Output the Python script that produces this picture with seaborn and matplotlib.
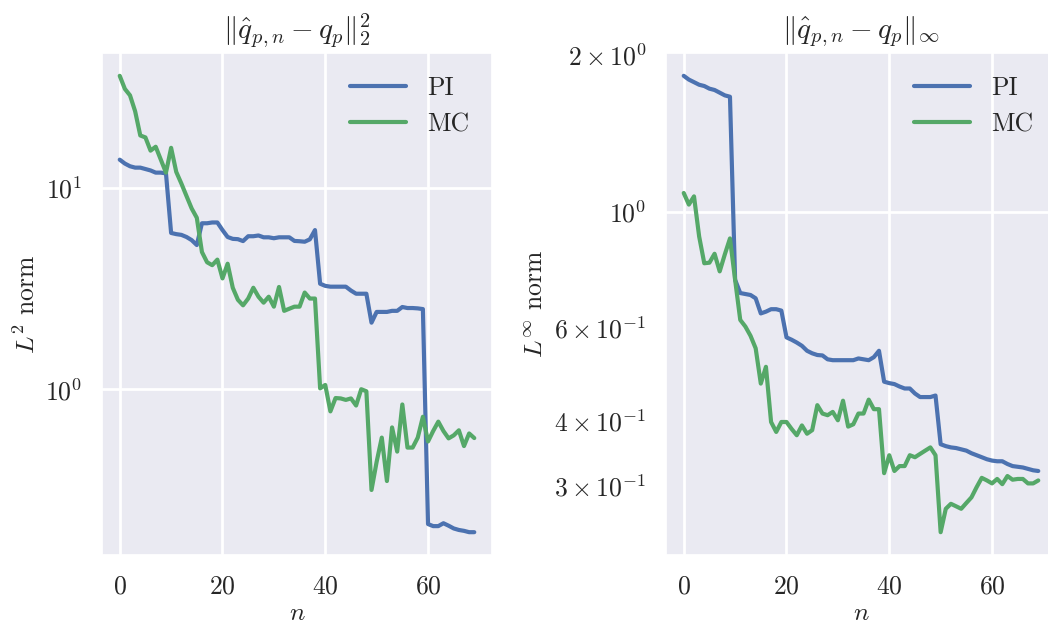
import numpy as np
import pandas as pd
import matplotlib
matplotlib.use("Agg")
import matplotlib.pyplot as plt
import seaborn as sns

# iteratsioonid
n_iter = list(range(70))

# L2 normi vead
pi_l2 = [13.8, 13.2, 12.8, 12.6, 12.6, 12.4, 12.2, 11.9, 11.9, 11.8,
         5.97, 5.89, 5.84, 5.7, 5.5, 5.2, 6.67, 6.67, 6.73, 6.73,
         6.17, 5.7, 5.58, 5.56, 5.44, 5.75, 5.75, 5.8, 5.68, 5.68,
         5.62, 5.68, 5.68, 5.68, 5.45, 5.43, 5.4, 5.55, 6.17, 3.34,
         3.26, 3.23, 3.23, 3.23, 3.23, 3.09, 2.98, 2.98, 2.98, 2.14,
         2.42, 2.42, 2.42, 2.45, 2.45, 2.56, 2.53, 2.53, 2.52, 2.5,
         0.214, 0.209, 0.209, 0.216, 0.21, 0.2035, 0.2, 0.198, 0.195, 0.195]
mc_l2 = [36, 31, 28.8, 24, 18.2, 17.8, 15.3, 16, 13.8, 11.9,
         15.8, 12, 10.5, 9.1, 7.9, 7.1, 4.8, 4.27, 4.13, 4.4,
         3.55, 4.2, 3.19, 2.78, 2.61, 2.82, 3.19, 2.88, 2.69, 2.88,
         2.57, 3.22, 2.45, 2.51, 2.57, 2.57, 3.02, 2.82, 2.82, 1.01,
         1.05, 0.776, 0.904, 0.9, 0.885, 0.9, 0.83, 1.0, 0.977, 0.316,
         0.436, 0.575, 0.35, 0.646, 0.49, 0.84, 0.513, 0.513, 0.575, 0.73,
         0.55, 0.62, 0.69, 0.62, 0.57, 0.59, 0.625, 0.522, 0.603, 0.572]

# L-lõpmatus normi vead
pi_linf = [1.82, 1.79, 1.77, 1.75, 1.74, 1.72, 1.71, 1.69, 1.67, 1.66,
           0.742, 0.70, 0.697, 0.694, 0.684, 0.64, 0.645, 0.652, 0.652, 0.648,
           0.576, 0.57, 0.563, 0.555, 0.543, 0.537, 0.533, 0.532, 0.523, 0.521,
           0.521, 0.521, 0.521, 0.521, 0.525, 0.523, 0.521, 0.528, 0.543, 0.474,
           0.471, 0.469, 0.464, 0.46, 0.46, 0.45, 0.443, 0.443, 0.443, 0.446,
           0.36, 0.357, 0.355, 0.354, 0.352, 0.35, 0.346, 0.343, 0.34, 0.337,
           0.335, 0.334, 0.334, 0.33, 0.327, 0.326, 0.325, 0.323, 0.321, 0.320]
mc_linf = [1.087, 1.033, 1.071, 0.898, 0.798, 0.80, 0.832, 0.77, 0.83, 0.89,
           0.742, 0.622, 0.604, 0.58, 0.549, 0.47, 0.506, 0.397, 0.38, 0.397,
           0.397, 0.385, 0.3745, 0.391, 0.377, 0.383, 0.4275, 0.412, 0.409, 0.415,
           0.40, 0.436, 0.389, 0.393, 0.412, 0.412, 0.438, 0.42, 0.42, 0.317,
           0.343, 0.32, 0.327, 0.327, 0.343, 0.34, 0.345, 0.35, 0.355, 0.343,
           0.2445, 0.271, 0.277, 0.274, 0.271, 0.278, 0.285, 0.298, 0.3105, 0.307,
           0.303, 0.309, 0.302, 0.313, 0.308, 0.309, 0.309, 0.303, 0.303, 0.307]

series_labels = ["PI", "MC"]
series_colors = ["#4C72B0", "#55A868"]

sns.set_theme(style="darkgrid")
fs = 18.5
plt.rcParams["font.family"] = "serif"
plt.rcParams["font.serif"] = ["cmr10"]
plt.rcParams["mathtext.fontset"] = "cm"
plt.rcParams["axes.formatter.use_mathtext"] = True
plt.rcParams["font.size"] = fs
plt.rcParams["xtick.labelsize"] = fs
plt.rcParams["ytick.labelsize"] = fs
plt.rcParams["axes.labelsize"] = fs
plt.rcParams["axes.titlesize"] = 21
plt.rcParams["legend.fontsize"] = fs
plt.rcParams["lines.linewidth"] = 3.0
plt.rcParams["grid.linewidth"] = 2.0
for a in ["xtick", "ytick"]:
    plt.rcParams[f"{a}.major.size"] = 0
    plt.rcParams[f"{a}.minor.size"] = 0
    plt.rcParams[f"{a}.major.pad"] = 14
    plt.rcParams[f"{a}.minor.pad"] = 14

fig = plt.figure(figsize=(10.48, 6.27), dpi=100)
W, H = 1048, 627
ax1 = fig.add_axes([102 / W, 1 - 555 / H, 390 / W, 502 / H])
ax2 = fig.add_axes([666 / W, 1 - 555 / H, 390 / W, 502 / H])

panels = [
    (ax1, pi_l2, mc_l2, r"$\|\hat{q}_{p,n} - q_p\|_2^2$", r"$L^2$ norm"),
    (ax2, pi_linf, mc_linf, r"$\|\hat{q}_{p,n} - q_p\|_\infty$", r"$L^\infty$ norm"),
]
for ax, pi_vals, mc_vals, title, ylab in panels:
    df = pd.DataFrame({"n": n_iter * 2,
                       "err": pi_vals + mc_vals,
                       "meetod": ["PI"] * 70 + ["MC"] * 70})
    sns.lineplot(data=df, x="n", y="err", hue="meetod", hue_order=series_labels,
                 palette=series_colors, linewidth=3.0, ax=ax)
    ax.set_yscale("log")
    ax.set_title(title, pad=11)
    ax.set_xlabel(r"$n$", labelpad=2)
    ax.set_ylabel(ylab)
    ax.legend(loc="upper right", frameon=False, handlelength=2.2)

fig.savefig("out.png", dpi=100)
